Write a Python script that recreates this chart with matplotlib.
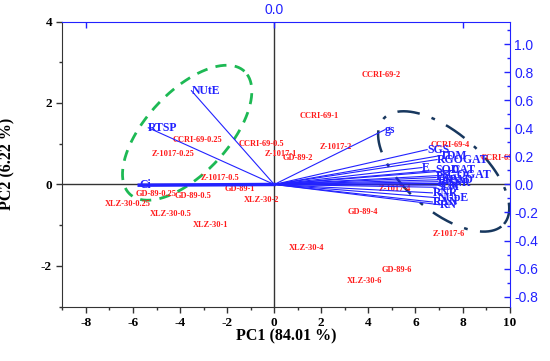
import numpy as np
import matplotlib
matplotlib.use("Agg")
import matplotlib.pyplot as plt
from matplotlib.ticker import MultipleLocator, FixedLocator

plt.rcParams["axes.unicode_minus"] = False

# ---- scores (PC1, PC2) ----
score_names = ["CCRI-69-0.25", "CCRI-69-0.5", "Z-1017-0.25", "Z-1017-0.5", "GD-89-1",
               "XLZ-30-2", "GD-89-0.25", "GD-89-0.5", "XLZ-30-0.25", "XLZ-30-0.5",
               "XLZ-30-1", "CCRI-69-2", "CCRI-69-1", "Z-1017-2", "Z-1017-1", "GD-89-2",
               "CCRI-69-4", "CCRI-69-6", "Z-1017-4", "GD-89-4", "Z-1017-6", "XLZ-30-4",
               "GD-89-6", "XLZ-30-6"]
score_pc1 = [-3.26, -0.53, -4.32, -2.32, -1.47, -0.54, -5.0, -3.47, -6.24, -4.41,
             -2.71, 4.53, 1.93, 2.61, 0.27, 1.0, 7.46, 9.6, 5.13, 3.76, 7.42, 1.38,
             5.21, 3.85]
score_pc2 = [1.08, 1.0, 0.76, 0.15, -0.12, -0.39, -0.24, -0.29, -0.49, -0.73,
             -1.0, 2.69, 1.69, 0.93, 0.76, 0.64, 0.98, 0.64, -0.12, -0.68, -1.22,
             -1.56, -2.1, -2.37]

# ---- loadings ----
load_names = ["NUtE", "RTSP", "Ci", "gs", "SGS", "TDM", "RGOGAT", "E", "SOD", "CAT",
              "SGOGAT", "Pn", "SPAD", "RGS", "SNR", "Chl", "SLA", "RNR", "NUpE", "RAN", "RN"]
load_pc1 = [-0.44, -0.669, -0.717, 0.588, 0.812, 0.881, 0.865, 0.785, 0.855, 0.94,
            0.89, 0.86, 0.9, 0.87, 0.92, 0.88, 0.86, 0.84, 0.87, 0.84, 0.88]
load_pc2 = [0.67, 0.405, -0.005, 0.391, 0.249, 0.206, 0.178, 0.121, 0.10, 0.10,
            0.065, 0.05, 0.035, 0.02, 0.008, -0.005, -0.02, -0.06, -0.095, -0.125, -0.145]

# ---- axis settings ----
xlim = (-9, 10)
ylim = (-3, 4)
load_ratio = 0.2909
top_scale = 8.0

BLUE = "#2222ff"
RED = "#ff1a1a"

fig = plt.figure(figsize=(5.5, 3.61), dpi=100)
ax = fig.add_axes([0.1135, 0.1504, 0.813, 0.79])
ax.set_xlim(*xlim)
ax.set_ylim(*ylim)

serif = "Liberation Serif"
sans = "Liberation Sans"
ax.axhline(0, color="#333333", lw=1.0, zorder=1)
ax.axvline(0, color="#333333", lw=1.0, zorder=1)

ax.xaxis.set_major_locator(MultipleLocator(2))
ax.xaxis.set_minor_locator(MultipleLocator(1))
ax.yaxis.set_major_locator(MultipleLocator(2))
ax.yaxis.set_minor_locator(MultipleLocator(1))
ax.tick_params(axis="both", which="major", direction="out", length=4, width=1,
               labelsize=9.5, color="#333333")
ax.tick_params(axis="both", which="minor", direction="out", length=2.5, width=1, color="#333333")
for lab in ax.get_xticklabels() + ax.get_yticklabels():
    lab.set_fontfamily(serif)
    lab.set_fontweight("bold")
ax.spines["top"].set_visible(False)
ax.spines["right"].set_visible(False)
ax.spines["left"].set_color("#333333")
ax.spines["bottom"].set_color("#333333")
ax.set_xlabel("PC1 (84.01 %)", fontfamily=serif, fontweight="bold", fontsize=11.5)
ax.set_ylabel("PC2 (6.22 %)", fontfamily=serif, fontweight="bold", fontsize=11.5)
ax.xaxis.set_label_coords(0.5, -0.075)
ax.yaxis.set_label_coords(-0.105, 0.5)

# score labels
for n, x, y in zip(score_names, score_pc1, score_pc2):
    ax.text(x, y, n, color=RED, fontsize=6, fontfamily=serif, fontweight="bold",
            ha="center", va="center", clip_on=True, zorder=3)

# ellipses (center in data units, semi-axes in pixels, angle in degrees)
fig_w, fig_h = 550, 361
sx = 0.813 * fig_w / (xlim[1] - xlim[0])
sy = 0.79 * fig_h / (ylim[1] - ylim[0])

def ellipse(cx, cy, a, b, ang):
    t = np.linspace(0, 2 * np.pi, 300)
    th = np.deg2rad(ang)
    u = a * np.cos(t) * np.cos(th) - b * np.sin(t) * np.sin(th)
    v = a * np.cos(t) * np.sin(th) + b * np.sin(t) * np.cos(th)
    return cx + u / sx, cy + v / sy

ex, ey = ellipse(-3.7, 1.27, 84, 41, 47)
ax.plot(ex, ey, color="#1db954", lw=2.0, ls=(0, (4, 3)), zorder=2)
ex, ey = ellipse(7.2, 0.32, 80, 39, -41)
ax.plot(ex, ey, color="#17375e", lw=1.8, ls=(0, (9, 5, 1.5, 5)), zorder=2)

# loadings axes
ax_r = ax.twinx()
ax_r.set_ylim(ylim[0] * load_ratio, ylim[1] * load_ratio)
ax_r.yaxis.set_major_locator(MultipleLocator(0.2))
ax_r.yaxis.set_minor_locator(MultipleLocator(0.1))
ax_r.tick_params(axis="y", which="major", direction="in", length=4, width=1,
                 color=BLUE, labelcolor=BLUE, labelsize=10)
ax_r.tick_params(axis="y", which="minor", direction="in", length=2.5, width=1, color=BLUE)
for s in ["left", "top", "bottom"]:
    ax_r.spines[s].set_visible(False)
ax_r.spines["right"].set_color(BLUE)
ax_r.yaxis.set_major_formatter(matplotlib.ticker.FormatStrFormatter("%.1f"))
for lab in ax_r.get_yticklabels():
    lab.set_fontfamily(sans)

ax_t = ax_r.twiny()
ax_t.set_xlim(xlim[0] / top_scale, xlim[1] / top_scale)
ax_t.xaxis.set_major_locator(FixedLocator([-1, 0, 1]))
ax_t.set_xticklabels(["", "0.0", ""], fontfamily=sans)
ax_t.tick_params(axis="x", which="major", direction="in", length=4, width=1,
                 color=BLUE, labelcolor=BLUE, labelsize=10)
for s in ["left", "right", "bottom"]:
    ax_t.spines[s].set_visible(False)
ax_t.spines["top"].set_color(BLUE)

for n, x, y in zip(load_names, load_pc1, load_pc2):
    lw = 2.5 if n == "Ci" else 0.8
    ax_t.plot([0, x], [0, y], color=BLUE, lw=lw, zorder=4)
    ax_t.text(x, y, n, color=BLUE, fontsize=8.5, fontfamily=serif, fontweight="bold",
              ha="left", va="center", zorder=5)

fig.savefig("out.png", dpi=100)
